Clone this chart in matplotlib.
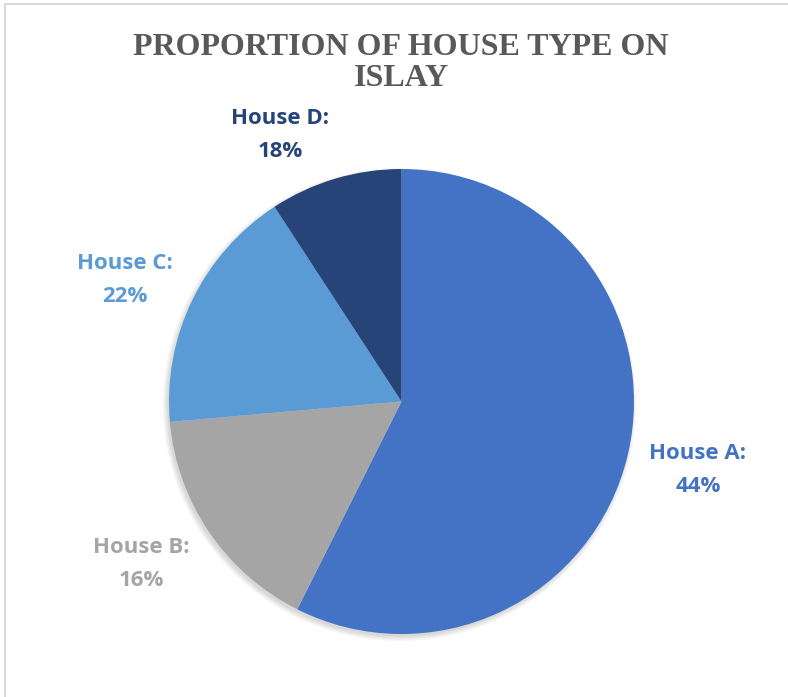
import matplotlib.pyplot as plt
from matplotlib.lines import Line2D
from matplotlib.patches import Circle

# slice sizes as drawn (labels in the chart show different percentages)
houses = ['House A', 'House B', 'House C', 'House D']
sizes = [57.4, 16.2, 17.2, 9.2]
label_pcts = ['44%', '16%', '22%', '18%']
colors = ['#4472C4', '#A5A5A5', '#5B9BD5', '#264478']

W, H = 788, 697
fig = plt.figure(figsize=(W / 100, H / 100), dpi=100)
ax = fig.add_axes([0, 0, 1, 1])
ax.set_xlim(0, W)
ax.set_ylim(0, H)
ax.set_aspect('equal')
ax.axis('off')

cx, cy, r = 401.5, H - 401.5, 232.5

# soft shadow under the pie
for i in range(4):
    ax.add_patch(Circle((cx - 2, cy - 3), r + 4 - i * 1.5, color='black',
                        alpha=0.04, lw=0, zorder=0))

ax.pie(sizes, colors=colors, startangle=90, counterclock=False,
       center=(cx, cy), radius=r, frame=True,
       wedgeprops=dict(linewidth=0))
ax.set_xlim(0, W)
ax.set_ylim(0, H)
ax.axis('off')

label_pos = [(698, H - 470), (141, H - 564), (125, H - 280), (280, H - 135)]
for name, pct, col, (x, y) in zip(houses, label_pcts, colors, label_pos):
    ax.text(x, y, f'{name}:\n{pct}', color=col, fontsize=16, fontweight='bold',
            family='Open Sans', ha='center', va='center', linespacing=1.8)

ax.text(401, H - 63, 'PROPORTION OF HOUSE TYPE ON\nISLAY', ha='center', va='center',
        fontsize=23, fontweight='bold', family='Liberation Serif', color='#595959',
        linespacing=1.05)

# chart area border (top and left visible)
fig.add_artist(Line2D([5 / W, 5 / W], [0, 1 - 4 / H], transform=fig.transFigure,
                      color='#D9D9D9', lw=1.5))
fig.add_artist(Line2D([5 / W, 1], [1 - 4 / H, 1 - 4 / H], transform=fig.transFigure,
                      color='#D9D9D9', lw=1.5))

fig.savefig('out.png', dpi=100)
